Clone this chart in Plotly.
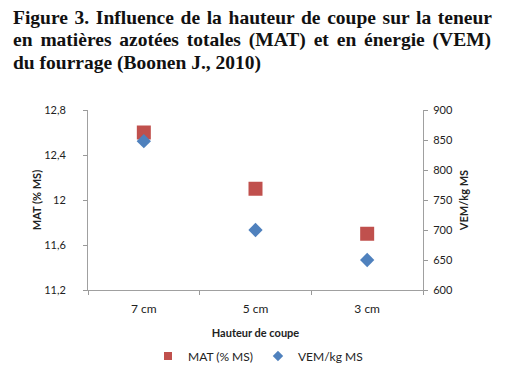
import plotly.graph_objects as go

categories = ["7 cm", "5 cm", "3 cm"]
mat_values = [12.6, 12.1, 11.7]
vem_values = [848, 700, 650]
left_ticks = [11.2, 11.6, 12.0, 12.4, 12.8]
left_labels = ["11,2", "11,6", "12", "12,4", "12,8"]
right_ticks = [600, 650, 700, 750, 800, 850, 900]
title_lines = [
    "Figure 3. Influence de la hauteur de coupe sur la teneur",
    "en matières azotées totales (MAT) et en énergie (VEM)",
    "du fourrage (Boonen J., 2010)",
]
title_word_spacing = [1.8, 3.0, 0.0]

# page body has an 8px margin; figure is sized so it fills the 505x374 window
OFF = 8
W, H = 505 - OFF, 374 - OFF
L, R, T, B = 88 - OFF, 82, 110 - OFF, 84
ph = H - T - B
pw = W - L - R

RED, BLUE = "#C0504D", "#4F81BD"
fam = "Lato, Liberation Sans, sans-serif"
axfont = dict(family=fam, size=11, color="#222")
titfont = dict(family=fam, size=11, color="#222")

fig = go.Figure()
fig.add_trace(go.Scatter(
    x=categories, y=mat_values, mode="markers", name="MAT (% MS)", showlegend=False,
    marker=dict(symbol="square", size=14, color=RED),
))
fig.add_trace(go.Scatter(
    x=categories, y=vem_values, mode="markers", name="VEM/kg MS", yaxis="y2", showlegend=False,
    marker=dict(symbol="diamond", size=11, color=BLUE),
))
# legend entries with small swatches like the original
fig.add_trace(go.Scatter(x=[None], y=[None], mode="markers", name="MAT (% MS)",
                         marker=dict(symbol="square", size=8, color=RED)))
fig.add_trace(go.Scatter(x=[None], y=[None], mode="markers", name="VEM/kg MS", yaxis="y2",
                         marker=dict(symbol="diamond", size=8, color=BLUE)))

fig.update_layout(
    width=W, height=H,
    margin=dict(l=L, r=R, t=T, b=B, autoexpand=False),
    paper_bgcolor="white", plot_bgcolor="white",
    showlegend=True,
    legend=dict(orientation="h", xref="container", x=(258 - OFF) / W, xanchor="center",
                yref="container", y=1 - (356 - OFF) / H, yanchor="middle",
                font=dict(family=fam, size=12, color="#222"),
                itemwidth=30, tracegroupgap=0),
    xaxis=dict(type="category", tickson="boundaries", ticks="outside", ticklen=4,
               tickcolor="#999", showline=True, linecolor="#a0a0a0", linewidth=1,
               showgrid=False, tickfont=dict(family=fam, size=12, color="#222"),
               range=[-0.5, 2.5], ticklabelstandoff=8, automargin=False,
               title=dict(text="<b>Hauteur de coupe</b>", font=titfont, standoff=13)),
    yaxis=dict(range=[11.2, 12.8], tickvals=left_ticks, ticktext=left_labels,
               ticks="outside", ticklen=4, tickcolor="#999", showline=True,
               linecolor="#a0a0a0", showgrid=False, zeroline=False, tickfont=axfont,
               ticklabelstandoff=15, automargin=False,
               title=dict(text="<b>MAT (% MS)</b>", font=titfont, standoff=0)),
    yaxis2=dict(range=[600, 900], tickvals=right_ticks, overlaying="y", side="right",
                ticks="outside", ticklen=4, tickcolor="#999", showline=True,
                linecolor="#a0a0a0", showgrid=False, zeroline=False, tickfont=axfont,
                ticklabelstandoff=3, automargin=False,
                title=dict(text="<b>VEM/kg MS</b>", font=titfont, standoff=8)),
)

ys = [17, 40, 62.5]
for line, py, ws in zip(title_lines, ys, title_word_spacing):
    fig.add_annotation(
        text="<span style='word-spacing:%.1fpx'><b>%s</b></span>" % (ws, line),
        xref="paper", yref="paper",
        x=(13 - OFF - 2 - L) / pw, y=(H - B - (py - OFF)) / ph,
        xanchor="left", yanchor="middle", showarrow=False,
        font=dict(family="Liberation Serif, Times New Roman, serif", size=19.5, color="#111"),
    )

fig.write_html("out.html")
